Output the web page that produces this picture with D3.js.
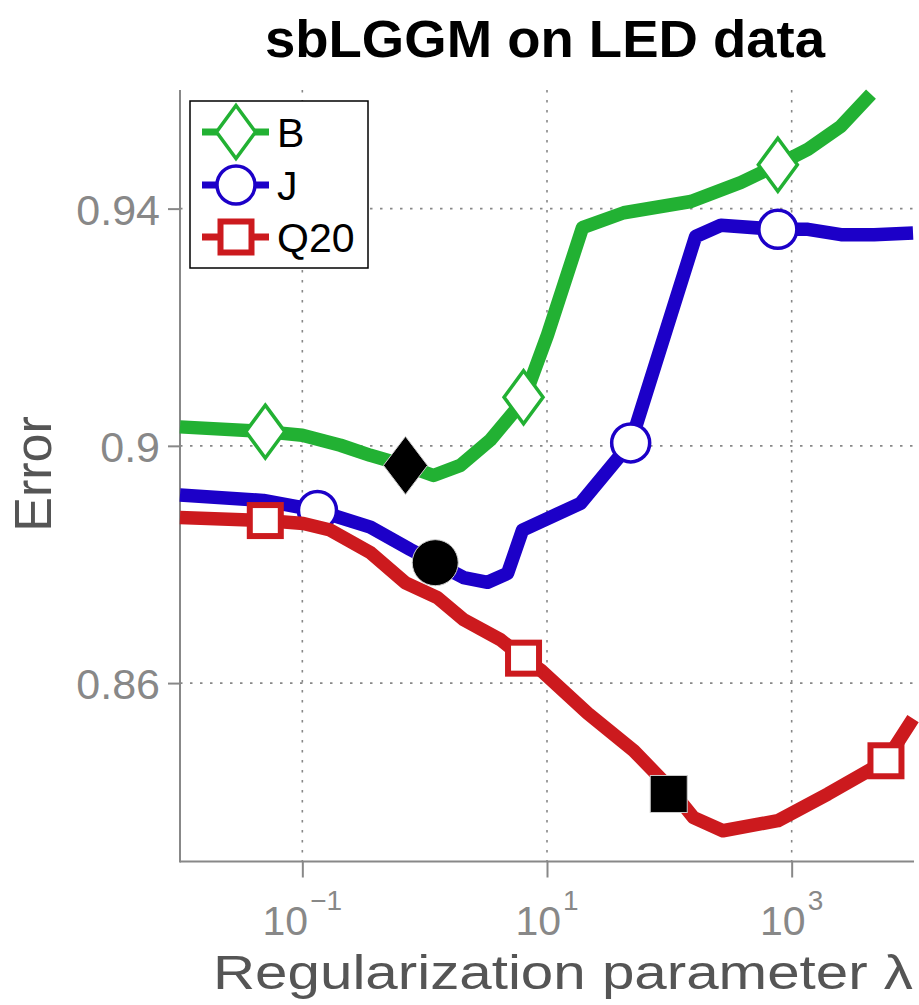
<!DOCTYPE html>
<html>
<head>
<meta charset="utf-8">
<script src="https://cdn.jsdelivr.net/npm/d3@7"></script>
<style>
  html, body { margin: 0; padding: 0; background: #fff; }
  svg { display: block; }
  text { font-family: "Liberation Sans", Arial, sans-serif; }
</style>
</head>
<body>
<svg id="chart" width="919" height="1005"></svg>
<script>
// ---------------- data ----------------
const titleText = "sbLGGM on LED data";
const xLabel = "Regularization parameter λ";
const yLabel = "Error";
const xTickValues = [0.1, 10, 1000];
const xTickExponents = ["−1", "1", "3"];
const yTickValues = [0.86, 0.9, 0.94];
const yTickLabels = ["0.86", "0.9", "0.94"];
const seriesNames = ["B", "J", "Q20"];

// B
const lambdaB = [0.01, 0.0498, 0.1, 0.205, 0.36, 0.697, 1.18, 1.96, 3.45, 6.43, 10.1, 19.5, 42.4, 150, 384, 771, 1360, 2530, 4450];
const errorB  = [0.9032, 0.9024, 0.9018, 0.9001, 0.8984, 0.8967, 0.8950, 0.8967, 0.9010, 0.9077, 0.9187, 0.9368, 0.9393, 0.9412, 0.9444, 0.9474, 0.9500, 0.9539, 0.9593];
const markLambdaB = [0.0498, 6.43, 771];
const markErrorB  = [0.9024, 0.9082, 0.9474];
const bestLambdaB = [0.697];
const bestErrorB  = [0.8967];

// J
const lambdaJ = [0.01, 0.048, 0.133, 0.36, 0.766, 1.22, 2.08, 3.27, 4.76, 6.31, 18.8, 48.3, 164, 264, 771, 1360, 2530, 4710, 9820];
const errorJ  = [0.8917, 0.8908, 0.8891, 0.8863, 0.8825, 0.8803, 0.8778, 0.8770, 0.8785, 0.8858, 0.8903, 0.9005, 0.9353, 0.9372, 0.9365, 0.9365, 0.9356, 0.9356, 0.9359];
const markLambdaJ = [0.133, 48.3, 771];
const markErrorJ  = [0.8891, 0.9005, 0.9365];
const bestLambdaJ = [1.22];
const bestErrorJ  = [0.8803];

// Q20
const lambdaQ = [0.01, 0.0498, 0.102, 0.169, 0.36, 0.697, 1.27, 2.08, 4.17, 6.43, 8.87, 21.5, 51.2, 98.9, 158, 274, 771, 1980, 5900, 9820];
const errorQ  = [0.8879, 0.8874, 0.8869, 0.8858, 0.8820, 0.8769, 0.8744, 0.8707, 0.8673, 0.8642, 0.8622, 0.8549, 0.8486, 0.8425, 0.8373, 0.8351, 0.8368, 0.8413, 0.8469, 0.8540];
const markLambdaQ = [0.0498, 6.43, 5900];
const markErrorQ  = [0.8874, 0.8642, 0.8469];
const bestLambdaQ = [98.9];
const bestErrorQ  = [0.8413];

// ---------------- drawing ----------------
const colors = { B: "#22b133", J: "#1c00c8", Q20: "#cc1a1e" };
const svg = d3.select("#chart");

const x = d3.scaleLog().domain([0.01, 10000]).range([180, 914]);
const y = d3.scaleLinear().domain([0.83, 0.96]).range([861, 90]);

const axisColor = "#888";
const gridColor = "#888";

// grid
const grid = svg.append("g");
grid.selectAll("line.vg").data(xTickValues).enter().append("line")
  .attr("x1", d => x(d)).attr("x2", d => x(d))
  .attr("y1", y(0.96)).attr("y2", y(0.83))
  .attr("stroke", gridColor).attr("stroke-width", 1.6)
  .attr("stroke-dasharray", "2.5,7.5");
grid.selectAll("line.hg").data(yTickValues).enter().append("line")
  .attr("x1", x(0.01)).attr("x2", x(10000))
  .attr("y1", d => y(d)).attr("y2", d => y(d))
  .attr("stroke", gridColor).attr("stroke-width", 1.6)
  .attr("stroke-dasharray", "2.5,7.5");

// axes via d3 axis generators
const xAxis = d3.axisBottom(x).tickValues(xTickValues).tickSize(16).tickFormat("");
const gx = svg.append("g").attr("transform", `translate(0,${y(0.83) + 0.5})`).call(xAxis);
gx.select(".domain").attr("stroke", axisColor).attr("stroke-width", 2).attr("d", `M${x(0.01)},0H${x(10000)}`);
gx.selectAll(".tick line").attr("stroke", axisColor).attr("stroke-width", 2);

const yAxis = d3.axisLeft(y).tickValues(yTickValues).tickSize(12).tickFormat("");
const gy = svg.append("g").attr("transform", `translate(${x(0.01)},0)`).call(yAxis);
gy.select(".domain").attr("stroke", axisColor).attr("stroke-width", 2).attr("d", `M0,${y(0.96)}V${y(0.83) + 1.5}`);
gy.selectAll(".tick line").attr("stroke", axisColor).attr("stroke-width", 2);

// x tick labels with superscripts
xTickValues.forEach((v, i) => {
  const t = svg.append("text")
    .attr("x", x(v)).attr("y", 935)
    .attr("text-anchor", "middle")
    .attr("fill", "#888")
    .attr("font-size", 41);
  t.append("tspan").text("10");
  t.append("tspan").attr("font-size", 28).attr("dy", -25).attr("dx", 2).text(xTickExponents[i]);
});

// y tick labels
yTickValues.forEach((v, i) => {
  svg.append("text")
    .attr("x", 160).attr("y", y(v) + 16)
    .attr("text-anchor", "end")
    .attr("fill", "#888")
    .attr("font-size", 43)
    .text(yTickLabels[i]);
});

// axis titles
svg.append("text")
  .attr("x", 213).attr("y", 989)
  .attr("fill", "#555").attr("font-size", 48)
  .attr("textLength", 700).attr("lengthAdjust", "spacingAndGlyphs")
  .text(xLabel);

svg.append("text")
  .attr("transform", "translate(51,474) rotate(-90)")
  .attr("text-anchor", "middle")
  .attr("fill", "#555").attr("font-size", 52)
  .text(yLabel);

svg.append("text")
  .attr("x", 265).attr("y", 57)
  .attr("fill", "#000").attr("font-size", 51).attr("font-weight", "bold")
  .attr("textLength", 560).attr("lengthAdjust", "spacingAndGlyphs")
  .text(titleText);

// marker shapes
function diamondPath(hw, hh) {
  return `M0,${-hh}L${hw},0L0,${hh}L${-hw},0Z`;
}
function drawMarker(g, type, cx, cy, stroke, fill, filled) {
  if (type === "diamond") {
    const hw = filled ? 22 : 19.5, hh = filled ? 29 : 26.5;
    g.append("path").attr("d", diamondPath(hw, hh))
      .attr("transform", `translate(${cx},${cy})`)
      .attr("fill", fill).attr("stroke", stroke).attr("stroke-width", filled ? 1 : 3.5)
      .attr("stroke-linejoin", "miter");
  } else if (type === "circle") {
    g.append("circle").attr("cx", cx).attr("cy", cy).attr("r", filled ? 23 : 19)
      .attr("fill", fill).attr("stroke", stroke).attr("stroke-width", filled ? 1 : 3.5);
  } else {
    const s = filled ? 37 : 31;
    g.append("rect").attr("x", cx - s / 2).attr("y", cy - s / 2).attr("width", s).attr("height", s)
      .attr("fill", fill).attr("stroke", stroke).attr("stroke-width", filled ? 1 : 6);
  }
}

const line = d3.line().x(d => x(d[0])).y(d => y(d[1]));
const series = [
  { name: "B", lam: lambdaB, err: errorB, mL: markLambdaB, mE: markErrorB, type: "diamond" },
  { name: "J", lam: lambdaJ, err: errorJ, mL: markLambdaJ, mE: markErrorJ, type: "circle" },
  { name: "Q20", lam: lambdaQ, err: errorQ, mL: markLambdaQ, mE: markErrorQ, type: "square" }
];

const plot = svg.append("g");
series.forEach(s => {
  const pts = s.lam.map((l, i) => [l, s.err[i]]);
  plot.append("path").datum(pts).attr("d", line)
    .attr("fill", "none").attr("stroke", colors[s.name])
    .attr("stroke-width", 13.5).attr("stroke-linejoin", "round").attr("stroke-linecap", "butt");
  s.mL.forEach((l, i) => drawMarker(plot, s.type, x(l), y(s.mE[i]), colors[s.name], "#fff", false));
});

// best (selected) markers
drawMarker(plot, "diamond", x(bestLambdaB[0]), y(bestErrorB[0]), "#ccc", "#000", true);
drawMarker(plot, "circle", x(bestLambdaJ[0]), y(bestErrorJ[0]), "#ccc", "#000", true);
drawMarker(plot, "square", x(bestLambdaQ[0]), y(bestErrorQ[0]), "#ccc", "#000", true);

// legend
const leg = svg.append("g");
leg.append("rect").attr("x", 190).attr("y", 101).attr("width", 178).attr("height", 167)
  .attr("fill", "#fff").attr("stroke", "#000").attr("stroke-width", 1.5);
const legY = [132, 185, 237];
series.forEach((s, i) => {
  leg.append("line").attr("x1", 202).attr("x2", 269).attr("y1", legY[i]).attr("y2", legY[i])
    .attr("stroke", colors[s.name]).attr("stroke-width", 7);
  drawMarker(leg, s.type, 236, legY[i], colors[s.name], "#fff", false);
  leg.append("text").attr("x", 277).attr("y", legY[i] + 15)
    .attr("font-size", 41).attr("fill", "#000").text(seriesNames[i]);
});
</script>
</body>
</html>
